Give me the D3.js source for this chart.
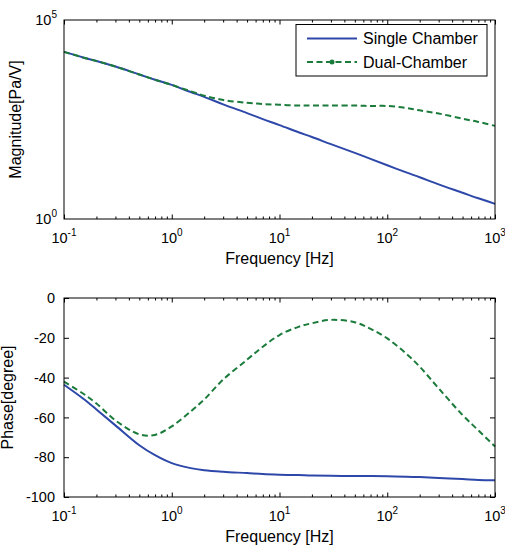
<!DOCTYPE html>
<html>
<head>
<meta charset="utf-8">
<script src="https://cdnjs.cloudflare.com/ajax/libs/d3/7.8.5/d3.min.js"></script>
<style>
  body { margin: 0; background: #fff; }
  svg { font-family: "Liberation Sans", Arial, sans-serif; }
</style>
</head>
<body>
<div id="chart"></div>
<script>
// data
var freq = [0.1, 0.15, 0.2, 0.3, 0.5, 0.7, 1, 1.5, 2, 3, 5, 7, 10, 15, 20, 30, 50, 70, 100, 150, 200, 300, 500, 700, 1000];
var magSingle = [15800, 11480, 9330, 6760, 4270, 3160, 2340, 1550, 1175, 759, 457, 324, 229, 151, 115, 75.9, 45.7, 32.4, 22.4, 14.8, 11.2, 7.41, 4.57, 3.31, 2.40];
var magDual = [15800, 11480, 9330, 6760, 4270, 3160, 2340, 1620, 1259, 977, 832, 776, 741, 708, 708, 708, 708, 692, 692, 617, 537, 447, 331, 275, 219];
var phaseSingle = [-43.6, -50.5, -56, -64, -74, -79, -83, -85.5, -86.5, -87.3, -88, -88.5, -88.8, -89, -89.2, -89.3, -89.5, -89.5, -89.6, -89.8, -90, -90.4, -91, -91.5, -91.6];
var phaseDual = [-42, -48, -53, -61.5, -68.5, -68.8, -64.5, -57, -51, -41, -31, -24.5, -18.6, -14.5, -12.7, -11, -12.2, -15.5, -20.3, -28, -34.5, -45.4, -58.8, -66.5, -74.6];
var seriesNames = ["Single Chamber", "Dual-Chamber"];
var xDecades = [-1, 0, 1, 2, 3];
var magTicks = [0, 5];
var phaseTicks = [0, -20, -40, -60, -80, -100];

var blue = "#2e48aa", green = "#1b7b3b";
var width = 505, height = 548;
var left = 64, right = 495;

var svg = d3.select("#chart").append("svg")
  .attr("width", width)
  .attr("height", height);

var x = d3.scaleLog().domain([0.1, 1000]).range([left, right]);
var yMag = d3.scaleLog().domain([1, 1e5]).range([219, 20]);
var yPh = d3.scaleLinear().domain([-100, 0]).range([497, 298]);

var minor = [];
xDecades.slice(0, -1).forEach(function (e) {
  for (var k = 2; k < 10; k++) minor.push(k * Math.pow(10, e));
});
var major = xDecades.map(function (e) { return Math.pow(10, e); });

function sup(sel, base, exp) {
  sel.append("tspan").text(base);
  sel.append("tspan").attr("dy", -7).attr("font-size", "10px").text(exp);
}

function xFrame(y0, y1) {
  // inward ticks on bottom and top
  var b = svg.append("g").attr("transform", "translate(0," + y1 + ")");
  b.call(d3.axisBottom(x).tickValues(major).tickSize(-4.5).tickFormat(""));
  b.append("g").call(d3.axisBottom(x).tickValues(minor).tickSize(-2.5).tickFormat(""));
  var t = svg.append("g").attr("transform", "translate(0," + y0 + ")");
  t.call(d3.axisTop(x).tickValues(major).tickSize(-4.5).tickFormat(""));
  t.append("g").call(d3.axisTop(x).tickValues(minor).tickSize(-2.5).tickFormat(""));
  svg.selectAll(".domain").remove();
  svg.selectAll(".tick line").attr("stroke", "#000");

  xDecades.forEach(function (e) {
    var txt = svg.append("text")
      .attr("x", x(Math.pow(10, e)))
      .attr("y", y1 + 24)
      .attr("text-anchor", "middle")
      .attr("font-size", "14.5px");
    sup(txt, "10", e);
  });

  svg.append("text")
    .attr("x", (left + right) / 2)
    .attr("y", y1 + 45)
    .attr("text-anchor", "middle")
    .attr("font-size", "16px")
    .text("Frequency [Hz]");

  svg.append("rect")
    .attr("x", left).attr("y", y0)
    .attr("width", right - left).attr("height", y1 - y0)
    .attr("fill", "none").attr("stroke", "#000").attr("stroke-width", 1);
}

// ---- magnitude panel
magTicks.forEach(function (e) {
  var txt = svg.append("text")
    .attr("x", 57)
    .attr("y", yMag(Math.pow(10, e)) + 5)
    .attr("text-anchor", "end")
    .attr("font-size", "14.5px");
  sup(txt, "10", e);
});

svg.append("text")
  .attr("transform", "translate(20.5," + (20 + 219) / 2 + ") rotate(-90)")
  .attr("text-anchor", "middle")
  .attr("font-size", "16px")
  .text("Magnitude[Pa/V]");

var magLine = d3.line()
  .x(function (d) { return x(d[0]); })
  .y(function (d) { return yMag(d[1]); })
  .curve(d3.curveCatmullRom.alpha(0.5));

svg.append("path")
  .datum(d3.zip(freq, magSingle))
  .attr("d", magLine)
  .attr("fill", "none").attr("stroke", blue).attr("stroke-width", 2);
svg.append("path")
  .datum(d3.zip(freq, magDual))
  .attr("d", magLine)
  .attr("fill", "none").attr("stroke", green).attr("stroke-width", 2)
  .attr("stroke-dasharray", "6,3.5");

xFrame(20, 219);

// legend
var lg = svg.append("g");
lg.append("rect")
  .attr("x", 296).attr("y", 24.5).attr("width", 191).attr("height", 51.5)
  .attr("fill", "#fff").attr("stroke", "#000").attr("stroke-width", 1);
seriesNames.forEach(function (name, i) {
  var yy = 38.5 + i * 23.5;
  lg.append("line")
    .attr("x1", 307).attr("x2", 357).attr("y1", yy).attr("y2", yy)
    .attr("stroke", i ? green : blue).attr("stroke-width", 2)
    .attr("stroke-dasharray", i ? "6,3.5" : null);
  if (i) lg.append("circle").attr("cx", 332).attr("cy", yy).attr("r", 2.5).attr("fill", green);
  lg.append("text")
    .attr("x", 363).attr("y", yy + 5.5)
    .attr("font-size", "16px")
    .text(name);
});

// ---- phase panel
var gl = svg.append("g").attr("transform", "translate(" + left + ",0)")
  .call(d3.axisLeft(yPh).tickValues(phaseTicks).tickSize(-5).tickPadding(9)
    .tickFormat(function (d) { return String(d); }));
var gr = svg.append("g").attr("transform", "translate(" + right + ",0)")
  .call(d3.axisRight(yPh).tickValues(phaseTicks).tickSize(-5).tickFormat(""));
gl.selectAll("text").attr("font-size", "14.5px").attr("font-family", null).attr("fill", "#000");
gl.select(".domain").remove();
gr.select(".domain").remove();
svg.selectAll(".tick line").attr("stroke", "#000");

svg.append("text")
  .attr("transform", "translate(12.5," + (298 + 497) / 2 + ") rotate(-90)")
  .attr("text-anchor", "middle")
  .attr("font-size", "16px")
  .text("Phase[degree]");

var phLine = d3.line()
  .x(function (d) { return x(d[0]); })
  .y(function (d) { return yPh(d[1]); })
  .curve(d3.curveCatmullRom.alpha(0.5));

svg.append("path")
  .datum(d3.zip(freq, phaseSingle))
  .attr("d", phLine)
  .attr("fill", "none").attr("stroke", blue).attr("stroke-width", 2);
svg.append("path")
  .datum(d3.zip(freq, phaseDual))
  .attr("d", phLine)
  .attr("fill", "none").attr("stroke", green).attr("stroke-width", 2)
  .attr("stroke-dasharray", "6,3.5");

xFrame(298, 497);
</script>
</body>
</html>
